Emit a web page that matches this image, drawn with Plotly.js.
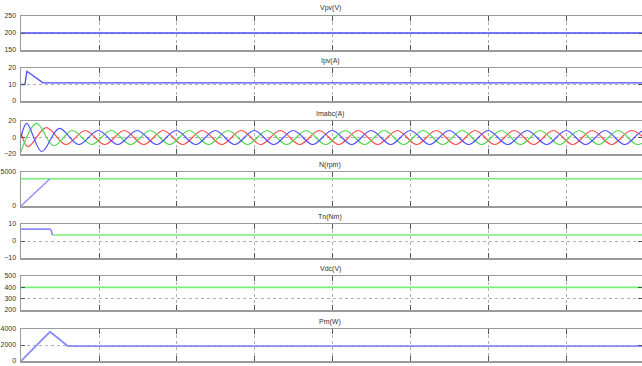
<!DOCTYPE html>
<html>
<head>
<meta charset="utf-8">
<script src="https://cdn.plot.ly/plotly-3.0.1.min.js"></script>
<style>html,body{margin:0;padding:0;background:#fff;}#chart{width:642px;height:366px;}</style>
</head>
<body>
<div id="chart"></div>
<script>
// ---- data ----
const titles = ["Vpv(V)", "Ipv(A)", "Imabc(A)", "N(rpm)", "Tn(Nm)", "Vdc(V)", "Pm(W)"];
const xTicks = [0.05, 0.1, 0.15, 0.2, 0.25, 0.3, 0.35];

const vpvT = [0, 0.4];
const vpvV = [200, 200];

const ipvT = [0, 0.0025, 0.0038, 0.0141, 0.4];
const ipvV = [10, 10, 18, 11, 11];

const iaT = [0, 0.0037, 0.0133, 0.0245, 0.037, 0.0495, 0.062, 0.0745, 0.087, 0.0995, 0.112, 0.1245, 0.137, 0.1495, 0.162, 0.1745, 0.187, 0.1995, 0.212, 0.2245, 0.237, 0.2495, 0.262, 0.2745, 0.287, 0.2995, 0.312, 0.3245, 0.337, 0.3495, 0.362, 0.3745, 0.387, 0.3995, 0.412];
const iaV = [0, 17, -17, 11, -8.5, 8.5, -8.5, 8.5, -8.5, 8.5, -8.5, 8.5, -8.5, 8.5, -8.5, 8.5, -8.5, 8.5, -8.5, 8.5, -8.5, 8.5, -8.5, 8.5, -8.5, 8.5, -8.5, 8.5, -8.5, 8.5, -8.5, 8.5, -8.5, 8.5, -8.5];

const ibT = [0, 0.010, 0.021, 0.0328, 0.0453, 0.0578, 0.0703, 0.0828, 0.0953, 0.1078, 0.1203, 0.1328, 0.1453, 0.1578, 0.1703, 0.1828, 0.1953, 0.2078, 0.2203, 0.2328, 0.2453, 0.2578, 0.2703, 0.2828, 0.2953, 0.3078, 0.3203, 0.3328, 0.3453, 0.3578, 0.3703, 0.3828, 0.3953, 0.4078];
const ibV = [-17, 17, -10, 8.5, -8.5, 8.5, -8.5, 8.5, -8.5, 8.5, -8.5, 8.5, -8.5, 8.5, -8.5, 8.5, -8.5, 8.5, -8.5, 8.5, -8.5, 8.5, -8.5, 8.5, -8.5, 8.5, -8.5, 8.5, -8.5, 8.5, -8.5, 8.5, -8.5, 8.5];

const icT = [0, 0.0045, 0.0162, 0.0287, 0.0412, 0.0537, 0.0662, 0.0787, 0.0912, 0.1037, 0.1162, 0.1287, 0.1412, 0.1537, 0.1662, 0.1787, 0.1912, 0.2037, 0.2162, 0.2287, 0.2412, 0.2537, 0.2662, 0.2787, 0.2912, 0.3037, 0.3162, 0.3287, 0.3412, 0.3537, 0.3662, 0.3787, 0.3912, 0.4037];
const icV = [6, -11, 12, -8.5, 8.5, -8.5, 8.5, -8.5, 8.5, -8.5, 8.5, -8.5, 8.5, -8.5, 8.5, -8.5, 8.5, -8.5, 8.5, -8.5, 8.5, -8.5, 8.5, -8.5, 8.5, -8.5, 8.5, -8.5, 8.5, -8.5, 8.5, -8.5, 8.5, -8.5];

const nRefT = [0, 0.4];
const nRefV = [4000, 4000];
const nT = [0, 0.0186];
const nV = [0, 4000];

const tnT = [0, 0.0186, 0.0195, 0.02];
const tnV = [7, 7, 6, 3.5];
const tlT = [0.02, 0.4];
const tlV = [3.5, 3.5];

const vdcT = [0, 0.4];
const vdcV = [400, 400];

const pmT = [0, 0.0186, 0.03, 0.4];
const pmV = [0, 3650, 1870, 1870];

const yRanges = [[150, 250], [0, 20], [-20, 20], [0, 5000], [-10, 10], [200, 500], [0, 4000]];
const yTicks = [[150, 200, 250], [0, 10, 20], [-20, 0, 20], [0, 5000], [-10, 0, 10], [200, 300, 400, 500], [0, 2000, 4000]];

// ---- layout geometry (pixels) ----
const H = 366;
const tops = [16, 68, 121, 172, 224, 276, 329];
const bots = [50, 101, 154, 206, 258, 310, 361];
const titleY = [8, 61, 114, 165, 217, 269, 322];

const BLUE = '#4a4aff', LBLUE = '#8c8cff', GREEN = '#77ee77', RED = '#ff4a4a', G3 = '#4fd84f', B3 = '#4f4fff';

function tr(x, y, i, color, w, shape) {
  const s = i === 0 ? '' : String(i + 1);
  return {x: x, y: y, xaxis: 'x' + s, yaxis: 'y' + s, type: 'scatter', mode: 'lines',
    line: {color: color, width: w, shape: shape || 'linear', smoothing: 1}, hoverinfo: 'skip', showlegend: false};
}

const data = [
  tr(vpvT, vpvV, 0, BLUE, 1.3),
  tr(ipvT, ipvV, 1, BLUE, 1.3),
  tr(icT, icV, 2, RED, 1.2, 'spline'),
  tr(ibT, ibV, 2, G3, 1.2, 'spline'),
  tr(iaT, iaV, 2, B3, 1.2, 'spline'),
  tr(nRefT, nRefV, 3, GREEN, 1.6),
  tr(nT, nV, 3, LBLUE, 1.3),
  tr(tlT, tlV, 4, GREEN, 1.6),
  tr(tnT, tnV, 4, LBLUE, 1.6),
  tr(vdcT, vdcV, 5, GREEN, 1.6),
  tr(pmT, pmV, 6, LBLUE, 1.8)
];

const layout = {
  width: 642, height: 366,
  margin: {l: 21, r: 0, t: 0, b: 0},
  paper_bgcolor: '#fff', plot_bgcolor: '#fff',
  font: {family: 'Liberation Sans, Arial, sans-serif', size: 7, color: '#333'},
  showlegend: false,
  annotations: []
};

for (let i = 0; i < 7; i++) {
  const s = i === 0 ? '' : String(i + 1);
  layout['xaxis' + s] = {
    anchor: 'y' + s, domain: [0, 1], range: [0, 0.3981],
    tickvals: xTicks, ticktext: xTicks.map(v => String(v)),
    showticklabels: i === 6,
    showgrid: true, gridcolor: '#b0b0b0', griddash: 'dot', gridwidth: 1,
    zeroline: false, showline: true, linecolor: '#9a9a9a', linewidth: 1.5, mirror: 'ticks',
    ticks: 'inside', ticklen: 5, tickcolor: '#555', tickwidth: 1,
    tickfont: {size: 7, color: '#333'}
  };
  layout['yaxis' + s] = {
    anchor: 'x' + s, domain: [1 - bots[i] / H, 1 - tops[i] / H],
    range: yRanges[i], tickvals: yTicks[i],
    showgrid: true, gridcolor: '#b0b0b0', griddash: 'dot', gridwidth: 1,
    zeroline: false, showline: true, linecolor: '#9a9a9a', linewidth: 1.5, mirror: 'ticks',
    ticks: 'inside', ticklen: 4, tickcolor: '#555', tickwidth: 1,
    tickfont: {size: 7, color: '#333'}, ticklabelstandoff: 2
  };
  layout.annotations.push({
    text: titles[i], xref: 'paper', yref: 'paper', x: (330 - 21) / 621, y: 1 - titleY[i] / H,
    xanchor: 'center', yanchor: 'middle', showarrow: false, font: {size: 7, color: '#333'}
  });
}

Plotly.newPlot('chart', data, layout, {staticPlot: true, displayModeBar: false});
</script>
</body>
</html>
